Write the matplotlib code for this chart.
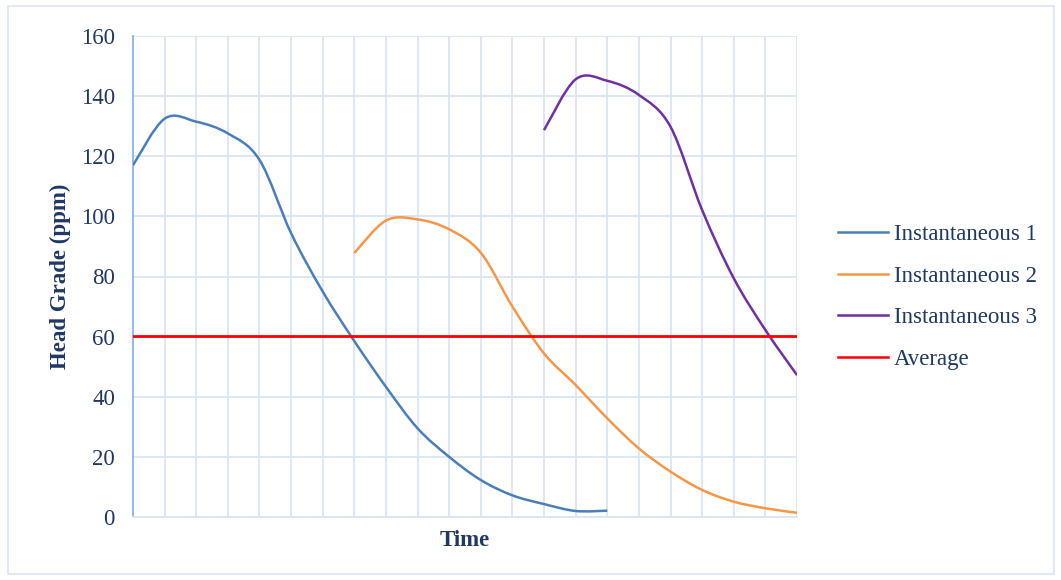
import numpy as np
import matplotlib
matplotlib.use("Agg")
import matplotlib.pyplot as plt
from matplotlib.path import Path
from matplotlib.patches import PathPatch, Rectangle
from matplotlib.lines import Line2D

# values, one per time step (22 steps)
steps = list(range(22))
inst1 = [117, 132.5, 131.5, 127.6, 118.8, 94.4, 75.0, 58.5, 43.3, 29.5, 20.0,
         12.3, 7.2, 4.3, 2.0, 2.1]
inst2 = [87.8, 98.6, 99.0, 95.7, 87.9, 70.0, 54.4, 43.9, 32.8, 22.8, 15.1,
         9.0, 5.1, 2.9, 1.4]
inst3 = [128.7, 145.6, 145.1, 140.4, 129.8, 102.1, 79.4, 62.2, 47.2]
average = [60.2] * 22
start1, start2, start3 = 0, 7, 13

labels = ["Instantaneous 1", "Instantaneous 2", "Instantaneous 3", "Average"]
colors = ["#4A7EBB", "#F79646", "#7030A0", "#FF0000"]
text_color = "#1F3864"
grid_color = "#DAE5F4"
fsize = 16.5

plt.rcParams['font.family'] = ['Liberation Serif', 'DejaVu Serif']


def smooth_path(xs, ys):
    # catmull-rom style cubic bezier through every point (smoothed line)
    xs = np.asarray(xs, float)
    ys = np.asarray(ys, float)
    verts = [(xs[0], ys[0])]
    codes = [Path.MOVETO]
    n = len(xs)
    for i in range(n - 1):
        x0, y0 = (xs[i - 1], ys[i - 1]) if i > 0 else (xs[i], ys[i])
        x1, y1 = xs[i], ys[i]
        x2, y2 = xs[i + 1], ys[i + 1]
        x3, y3 = (xs[i + 2], ys[i + 2]) if i + 2 < n else (x2, y2)
        c1 = (x1 + (x2 - x0) / 6, y1 + (y2 - y0) / 6)
        c2 = (x2 - (x3 - x1) / 6, y2 - (y3 - y1) / 6)
        verts += [c1, c2, (x2, y2)]
        codes += [Path.CURVE4] * 3
    return Path(verts, codes)


fig = plt.figure(figsize=(10.61, 5.80), dpi=100)
ax = fig.add_axes([133 / 1061, 1 - 517 / 580, 664 / 1061, 481 / 580])

series = [(start1, inst1), (start2, inst2), (start3, inst3)]
for (start, vals), col in zip(series, colors[:3]):
    xs = steps[start:start + len(vals)]
    ax.add_patch(PathPatch(smooth_path(xs, vals), facecolor="none",
                           edgecolor=col, lw=1.8, zorder=3))
ax.plot(steps, average, color=colors[3], lw=2.0, zorder=3)

ax.set_xlim(0, 21)
ax.set_ylim(0, 160)
ax.set_yticks(range(0, 161, 20))
ax.set_xticks(steps)
ax.set_xticklabels([])
ax.grid(True, color=grid_color, lw=1.3, zorder=0)
ax.set_axisbelow(True)
ax.tick_params(length=0, labelsize=fsize, labelcolor=text_color, pad=13)
for s in ["top", "right"]:
    ax.spines[s].set_visible(False)
ax.spines["left"].set_color("#8EB4E3")
ax.spines["left"].set_linewidth(1.3)
ax.spines["bottom"].set_color(grid_color)
ax.spines["bottom"].set_linewidth(1.3)

ax.set_ylabel("Head Grade (ppm)", fontsize=fsize, fontweight="bold", color=text_color, labelpad=7)
ax.set_xlabel("Time", fontsize=fsize, fontweight="bold", color=text_color, labelpad=-4)

handles = [Line2D([], [], color=c, lw=1.8) for c in colors]
fig.legend(handles, labels, loc="center left", bbox_to_anchor=(838 / 1061, 1 - 297 / 580),
           frameon=False, fontsize=fsize, handlelength=2.18, labelspacing=0.9,
           labelcolor=text_color, handletextpad=0.25, borderpad=0, borderaxespad=0)

fig.add_artist(Rectangle((8 / 1061, 6 / 580), 1046 / 1061, 568 / 580, transform=fig.transFigure,
                         fill=False, edgecolor="#DAE5F4", lw=1.2))

fig.savefig("out.png", dpi=100)
